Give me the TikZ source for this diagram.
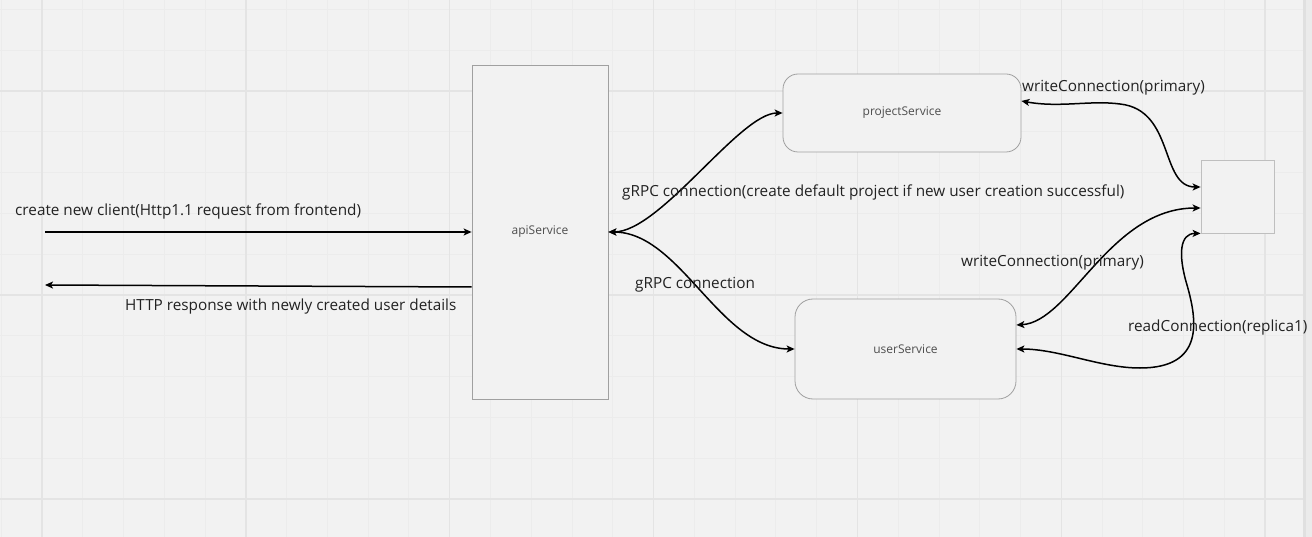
\documentclass[tikz,border=0pt]{standalone}
\usepackage{fontspec}
\setmainfont{Open Sans}
\usetikzlibrary{arrows.meta,calc}
\definecolor{bgc}{HTML}{F2F2F2}
\definecolor{minorc}{HTML}{ECECEC}
\definecolor{majorc}{HTML}{E4E4E4}
\definecolor{boxc}{HTML}{A0A0A0}
\definecolor{txtc}{HTML}{222222}
\tikzset{
  minorline/.style={draw=minorc, line width=0.9pt},
  majorline/.style={draw=majorc, line width=1.3pt},
  svcbox/.style={draw=boxc, line width=0.8pt, fill=bgc, font=\fontsize{12}{14}\selectfont, text=txtc!80, inner sep=0pt},
  conn/.style={draw=black, line width=1.5pt, >={Stealth[length=8pt,width=7pt,inset=2pt]}},
  lbl/.style={font=\fontsize{15.3}{18}\selectfont, text=txtc, inner sep=0pt, anchor=west},
}
\begin{document}
\begin{tikzpicture}[x=1pt,y=-1pt]
\useasboundingbox (0,0) rectangle (1312,537);
\fill[bgc] (0,0) rectangle (1312,537);
% grid
\foreach \i in {-1,...,31} { \draw[minorline] ({42+40.77*\i},0) -- ++(0,537); }
\foreach \j in {-2,...,10} { \draw[minorline] (0,{91+40.8*\j}) -- ++(1312,0); }
\foreach \k in {0,...,6} { \draw[majorline] ({42+203.85*\k},0) -- ++(0,537); }
\foreach \k in {0,...,2} { \draw[majorline] (0,{91+204*\k}) -- ++(1312,0); }
% right edge strip
\fill[black!12] (1303,0) rectangle (1306,537);
\fill[black!8] (1306,0) rectangle (1312,537);

% nodes
\node[svcbox, minimum width=136pt, minimum height=334pt] (api) at (540,232) {apiService};
\node[svcbox, rounded corners=15pt, minimum width=238pt, minimum height=78pt] (proj) at (902,113) {projectService};
\node[svcbox, rounded corners=18pt, minimum width=221pt, minimum height=100pt] (user) at (905.5,349) {userService};
\node[draw=black!25, line width=0.8pt, fill=bgc, minimum width=73pt, minimum height=73pt, inner sep=0pt] (db) at (1237.5,196.5) {};

% free ends
\coordinate (cin) at (45,232);
\coordinate (cout) at (45,285);

% connectors
\draw[conn,->] (cin) -- (api.west);
\draw[conn,->] ([yshift=-55pt]api.west) -- (cout);
\draw[conn,<->] (api.east) .. controls +(52,0) and +(-43,0) .. (proj.west);
\draw[conn,<->] (api.east) .. controls +(72,0) and +(-75,0) .. (user.west);
\draw[conn,<->] ([yshift=12pt]proj.east) .. controls +(39,7) and +(-30,-4) .. (1120,104)
   .. controls +(55,6) and +(-41,0) .. ([yshift=9.5pt]db.west);
\draw[conn,<->] ([yshift=-11.5pt]db.west) .. controls +(-91,0) and +(54,-3) .. ([yshift=24pt]user.east);
\draw[conn,<->] (db.south west) .. controls +(-21,0) and +(-9,-30) .. (1187,285)
   .. controls +(10,35) and +(65,0) .. (1140,368)
   .. controls +(-40,0) and +(43,0) .. (user.east);

% labels
\node[lbl] (l1) at (15,211) {create new client(Http1.1 request from frontend)};
\node[lbl] (l2) at (125,307) {HTTP response with newly created user details};
\node[lbl] (l3) at (622,192) {gRPC connection(create default project if new user creation successful)};
\node[lbl] (l4) at (635,285) {gRPC connection};
\node[lbl] (l5) at (1022,88) {writeConnection(primary)};
\node[lbl] (l6) at (961,263) {writeConnection(primary)};
\node[lbl] (l7) at (1128,328) {readConnection(replica1)};
\end{tikzpicture}
\end{document}
